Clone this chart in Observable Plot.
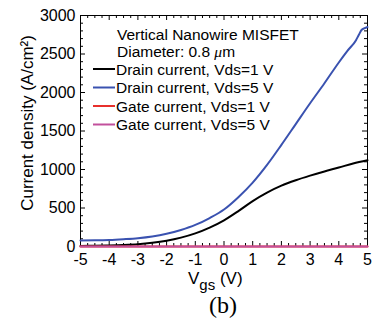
<!DOCTYPE html>
<html><head><meta charset="utf-8">
<script src="https://cdn.jsdelivr.net/npm/d3@7"></script>
<script src="https://cdn.jsdelivr.net/npm/@observablehq/plot@0.6"></script>
<style>
html,body{margin:0;padding:0;background:#fff;overflow:hidden;}
#fig{position:relative;width:376px;height:322px;}
#cap{position:absolute;left:173px;top:293px;width:100px;text-align:center;font-family:"Liberation Serif","Times New Roman",serif;font-size:24px;line-height:24px;color:#000;}
</style></head><body><div id="fig"></div>
<script>
// ---- data ----
const seriesNames = ["Drain current, Vds=1 V", "Drain current, Vds=5 V", "Gate current, Vds=1 V", "Gate current, Vds=5 V"];
const seriesColors = ["#000000", "#3a52b0", "#e8302c", "#c2509c"];

const vgsDrain1 = [-5,-4.5,-4,-3.5,-3,-2.5,-2,-1.5,-1,-0.5,0,0.5,1,1.5,2,2.5,3,3.5,4,4.5,5];
const jDrain1   = [8,10,14,20,30,48,75,115,170,245,340,460,590,700,790,860,920,975,1025,1078,1120];

const vgsDrain5 = [-5,-4.5,-4,-3.5,-3,-2.5,-2,-1.5,-1,-0.5,0,0.5,1,1.5,2,2.5,3,3.5,4,4.3,4.6,4.7,4.8,4.9,5];
const jDrain5   = [78,80,85,95,108,130,165,215,280,370,480,640,830,1060,1320,1590,1860,2120,2390,2540,2680,2750,2815,2835,2850];

const vgsGate = [-5,-2.5,0,2.5,5];
const jGate1  = [0,0,0,0,0];
const jGate5  = [0,0,0,0,0];

const xTicks = [-5,-4,-3,-2,-1,0,1,2,3,4,5];
const yTicks = [0,500,1000,1500,2000,2500,3000];

const legendTitle = "Vertical Nanowire MISFET";
const legendSub = "Diameter: 0.8 ";
const legendUnit = "μ";

// ---- build ----
const rows = [];
[[vgsDrain1,jDrain1],[vgsDrain5,jDrain5],[vgsGate,jGate1],[vgsGate,jGate5]].forEach(([xs,ys],i)=>{
  xs.forEach((x,k)=>rows.push({series:seriesNames[i], vgs:x, j:ys[k]}));
});
const xMinor = d3.range(-5, 5.001, 0.25).filter(v=>!xTicks.includes(v));
const yMinor = d3.range(0, 3001, 100).filter(v=>!yTicks.includes(v));

const W=376, H=292, mL=80, mR=9, mT=15, mB=46;
const iw = W-mL-mR, ih = H-mT-mB;
const majorLen = 5, minorLen = 3;
const font = "'Liberation Sans', Arial, Helvetica, sans-serif";

const chart = Plot.plot({
  width: W, height: H,
  marginLeft: mL, marginRight: mR, marginTop: mT, marginBottom: mB,
  style: {fontFamily: font, fontSize: "16px", background: "white", color: "black", overflow: "visible"},
  x: {domain: [-5, 5]},
  y: {domain: [0, 3000]},
  color: {domain: seriesNames, range: seriesColors},
  marks: [
    Plot.axisX({ticks: xTicks, tickSize: 0, tickPadding: 7, label: null, fontSize: 16, tickFormat: d => String(d)}),
    Plot.axisY({ticks: yTicks, tickSize: 0, tickPadding: 5, label: null, fontSize: 16, tickFormat: d => String(d)}),
    // inward ticks
    Plot.tickX(xTicks, {x: d => d, insetTop: ih - majorLen, stroke: "black"}),
    Plot.tickX(xTicks, {x: d => d, insetBottom: ih - majorLen, stroke: "black"}),
    Plot.tickX(xMinor, {x: d => d, insetTop: ih - minorLen, stroke: "black"}),
    Plot.tickX(xMinor, {x: d => d, insetBottom: ih - minorLen, stroke: "black"}),
    Plot.tickY(yTicks, {y: d => d, insetRight: iw - majorLen, stroke: "black"}),
    Plot.tickY(yTicks, {y: d => d, insetLeft: iw - majorLen, stroke: "black"}),
    Plot.tickY(yMinor, {y: d => d, insetRight: iw - minorLen, stroke: "black"}),
    Plot.tickY(yMinor, {y: d => d, insetLeft: iw - minorLen, stroke: "black"}),
    Plot.frame({stroke: "black", strokeWidth: 1}),
    Plot.line(rows, {x: "vgs", y: "j", z: "series", stroke: "series", strokeWidth: 2, curve: "monotone-x"})
  ]
});

const svg = d3.select(chart);
// y axis label
svg.append("text")
  .attr("transform", "translate(33,123) rotate(-90)")
  .attr("text-anchor", "middle")
  .attr("font-family", font).attr("font-size", 17).attr("fill", "black")
  .text("Current density (A/cm²)");
// x axis label with subscript
const xl = svg.append("text")
  .attr("x", 188).attr("y", 284).attr("text-anchor", "start")
  .attr("font-family", font).attr("font-size", 17).attr("fill", "black");
xl.append("tspan").text("V");
xl.append("tspan").attr("font-size", 15).attr("dy", 6).text("gs");
xl.append("tspan").attr("dy", -6).text(" (V)");

// legend
const lg = svg.append("g").attr("font-family", font).attr("font-size", 15.5).attr("fill", "black").attr("text-anchor", "start");
lg.append("text").attr("x", 117).attr("y", 40).attr("text-anchor", "start").text(legendTitle);
const sub = lg.append("text").attr("x", 117).attr("y", 57).attr("text-anchor", "start");
sub.append("tspan").text(legendSub);
sub.append("tspan").attr("font-style", "italic").attr("font-family", "'Liberation Serif', serif").text(legendUnit);
sub.append("tspan").text("m");
seriesNames.forEach((name, i) => {
  const cy = 69 + i * 18.5;
  lg.append("line").attr("x1", 93).attr("x2", 115).attr("y1", cy).attr("y2", cy)
    .attr("stroke", seriesColors[i]).attr("stroke-width", 2);
  lg.append("text").attr("x", 116).attr("y", cy + 5.5).attr("text-anchor", "start").text(name);
});

const fig = document.getElementById("fig");
fig.appendChild(chart);
const cap = document.createElement("div");
cap.id = "cap";
cap.textContent = "(b)";
fig.appendChild(cap);
</script>
</body></html>
